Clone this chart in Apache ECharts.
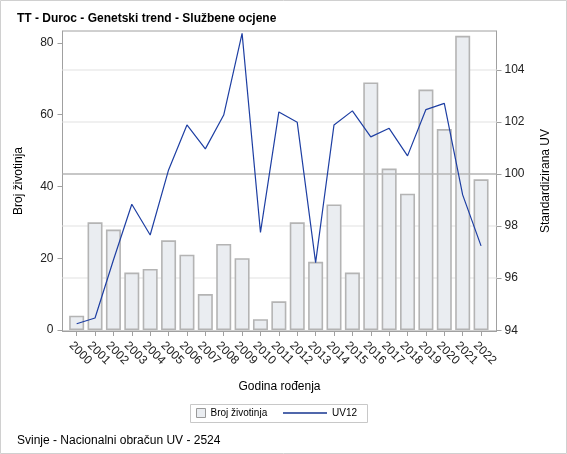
<!DOCTYPE html>
<html>
<head>
<meta charset="utf-8">
<script src="https://cdn.jsdelivr.net/npm/echarts@6/dist/echarts.min.js"></script>
<style>
html,body{margin:0;padding:0;background:#fff;}
#chart{width:567px;height:454px;}
</style>
</head>
<body>
<div id="chart"></div>
<script>
const years = ['2000','2001','2002','2003','2004','2005','2006','2007','2008','2009','2010','2011','2012','2013','2014','2015','2016','2017','2018','2019','2020','2021','2022'];
const brojZivotinja = [4,30,28,16,17,25,21,10,24,20,3,8,30,19,35,16,69,45,38,67,56,82,42];
const uv12 = [94.25,94.47,96.7,98.84,97.66,100.16,101.89,100.97,102.27,105.41,97.76,102.39,101.99,96.6,101.89,102.43,101.43,101.76,100.70,102.48,102.72,99.20,97.24];
const leftTicks = [0,20,40,60,80];
const rightTicks = [94,96,98,100,102,104];
const uvGridLines = [96,98,102,104];
const uvReference = 100;

const FONT = '"Liberation Sans", Arial, sans-serif';
const xIdx = years.map((y, i) => i);
const LINE_COLOR = '#1e3fa3';

const chart = echarts.init(document.getElementById('chart'), null, {renderer: 'canvas'});
chart.setOption({
  animation: false,
  backgroundColor: '#fff',
  textStyle: {fontFamily: FONT},
  title: [
    {text: 'TT - Duroc - Genetski trend - Službene ocjene', left: 12, top: 8,
     textStyle: {fontFamily: FONT, fontSize: 12, fontWeight: 'bold', color: '#000'}},
    {text: 'Svinje - Nacionalni obračun UV - 2524', left: 12, top: 430,
     textStyle: {fontFamily: FONT, fontSize: 12, fontWeight: 'normal', color: '#000'}}
  ],
  graphic: [
    {type: 'rect', silent: true, shape: {x: 0.5, y: 0.5, width: 566, height: 453},
     style: {fill: 'none', stroke: '#d0d0d0', lineWidth: 1}},
    {type: 'rect', silent: true, shape: {x: 190.5, y: 404.5, width: 177, height: 18},
     style: {fill: 'none', stroke: '#c8c8c8', lineWidth: 1}}
  ],
  legend: [
    {left: 191, top: 403, itemWidth: 9, itemHeight: 9, selectedMode: false,
     textStyle: {fontFamily: FONT, fontSize: 10, color: '#000'},
     data: [{name: 'Broj životinja', icon: 'rect',
             itemStyle: {color: '#eaedf1', borderColor: '#9a9a9a', borderWidth: 1}}]},
    {left: 278, top: 403, itemWidth: 44, itemHeight: 9, selectedMode: false,
     textStyle: {fontFamily: FONT, fontSize: 10, color: '#000'},
     data: [{name: 'UV12', icon: 'path://M0,0H44V1.3H0Z', itemStyle: {color: '#16358f'}}]}
  ],
  grid: {left: 62.5, right: 70.5, top: 31, bottom: 123, show: true,
         borderColor: '#a0a0a0', borderWidth: 1, backgroundColor: 'transparent'},
  xAxis: {
    type: 'value', min: -0.77, max: 22.84,
    name: 'Godina rođenja', nameLocation: 'middle', nameGap: 50,
    nameTextStyle: {fontFamily: FONT, fontSize: 12, color: '#000'},
    axisLine: {show: true, onZero: false, lineStyle: {color: '#a0a0a0'}},
    axisTick: {show: true, length: 5, customValues: xIdx, lineStyle: {color: '#a0a0a0'}},
    axisLabel: {customValues: xIdx, rotate: -45, margin: 7, verticalAlign: 'top', padding: [2, 0, 0, 0],
                fontFamily: FONT, fontSize: 12, color: '#222',
                formatter: v => years[Math.round(v)] || ''},
    splitLine: {show: false}
  },
  yAxis: [
    {type: 'value', min: -0.28, max: 83.34, position: 'left',
     name: 'Broj životinja', nameLocation: 'middle', nameGap: 38,
     nameTextStyle: {fontFamily: FONT, fontSize: 12, color: '#000'},
     axisLine: {show: true, onZero: false, lineStyle: {color: '#a0a0a0'}},
     axisTick: {show: true, length: 5, customValues: leftTicks, lineStyle: {color: '#a0a0a0'}},
     axisLabel: {customValues: leftTicks, margin: 9, fontFamily: FONT, fontSize: 12, color: '#222'},
     splitLine: {show: false}},
    {type: 'value', min: 93.97, max: 105.5, position: 'right',
     name: 'Standardizirana UV', nameLocation: 'middle', nameGap: 43,
     nameTextStyle: {fontFamily: FONT, fontSize: 12, color: '#000'},
     axisLine: {show: true, onZero: false, lineStyle: {color: '#a0a0a0'}},
     axisTick: {show: true, length: 5, customValues: rightTicks, lineStyle: {color: '#a0a0a0'}},
     axisLabel: {customValues: rightTicks, margin: 8, fontFamily: FONT, fontSize: 12, color: '#222'},
     splitLine: {show: false}},
  ],
  series: [
    {name: 'gridlines', type: 'line', yAxisIndex: 1, data: [], z: 1, silent: true,
     markLine: {silent: true, z: 1, symbol: ['none', 'none'], label: {show: false},
                lineStyle: {type: 'solid', color: '#ebebeb', width: 1.5},
                data: uvGridLines.map(v => ({yAxis: v}))}},
    {name: 'Broj životinja', type: 'bar', yAxisIndex: 0, z: 2, barWidth: 15,
     itemStyle: {color: '#eaedf1', borderColor: '#b4b4b4', borderWidth: 1.6},
     data: brojZivotinja.map((v, i) => [i, v])},
    {name: 'UV12', type: 'line', yAxisIndex: 1, z: 4, symbol: 'none',
     lineStyle: {color: LINE_COLOR, width: 1.2}, itemStyle: {color: LINE_COLOR},
     data: uv12.map((v, i) => [i, v]),
     markLine: {silent: true, z: 3, symbol: ['none', 'none'], label: {show: false},
                lineStyle: {type: 'solid', color: '#b4b4b4', width: 1.5},
                data: [{yAxis: uvReference}]}}
  ]
});
</script>
</body>
</html>
